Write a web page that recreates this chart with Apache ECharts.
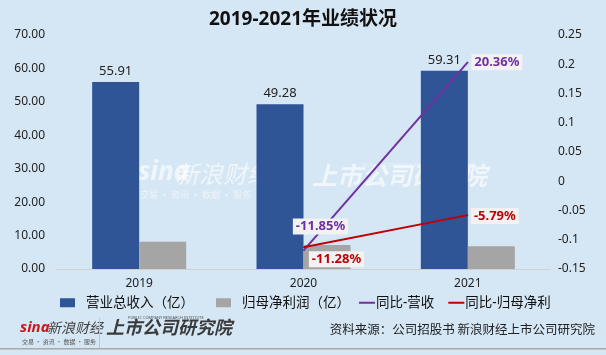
<!DOCTYPE html>
<html><head><meta charset="utf-8">
<script src="https://cdn.jsdelivr.net/npm/echarts@6/dist/echarts.min.js"></script>
<style>html,body{margin:0;padding:0;background:#d5e6f4;}#c{width:606px;height:355px;}</style>
</head><body><div id="c"></div>
<script>
var categories = ['2019', '2020', '2021'];
var revenue = [55.91, 49.28, 59.31];
var netProfit = [8.13, 7.21, 6.80];
var revenueYoY = [null, -0.1185, 0.2036];
var profitYoY = [null, -0.1128, -0.0579];
var leftTicks = {min: 0, max: 70, interval: 10};
var rightTicks = {min: -0.15, max: 0.25, interval: 0.05};
var seriesNames = ['营业总收入（亿）', '归母净利润（亿）', '同比-营收', '同比-归母净利'];

var FONT = '"Noto Sans", "Noto Sans CJK SC", sans-serif';
var chart = echarts.init(document.getElementById('c'));

function lineLabels(vals, color, offsets) {
  return vals.map(function (v, i) {
    if (v === null) return null;
    return {
      value: v,
      label: {
        show: true, position: 'inside', offset: offsets[i],
        formatter: (v * 100).toFixed(2) + '%',
        color: color, fontWeight: 'bold', fontSize: 13, fontFamily: FONT,
        backgroundColor: '#f2f2f2', padding: [2, 3, 1, 3]
      }
    };
  });
}

chart.setOption({
  backgroundColor: '#d5e6f4',
  animation: false,
  title: {
    text: '2019-2021年业绩状况', left: 'center', top: 5,
    textStyle: {fontSize: 19, fontWeight: 'bold', color: '#111', fontFamily: FONT}
  },
  grid: {left: 57, right: 56, top: 35, bottom: 86},
  legend: [{
    data: [seriesNames[0], seriesNames[1]], left: 55, top: 291, icon: 'rect',
    itemWidth: 15, itemHeight: 9, itemGap: 22,
    textStyle: {fontSize: 13.5, color: '#111', fontFamily: FONT, padding: [0, 0, 0, 6]}
  }, {
    data: [seriesNames[2], seriesNames[3]], left: 354, top: 291, icon: 'rect',
    itemWidth: 16, itemHeight: 2, itemGap: 14,
    textStyle: {fontSize: 13.5, color: '#111', fontFamily: FONT, padding: [0, 0, 0, -4]}
  }],
  xAxis: {
    type: 'category', data: categories,
    axisLine: {lineStyle: {color: '#d0d0d0'}}, axisTick: {show: false},
    axisLabel: {color: '#222', fontSize: 12, margin: 9, fontFamily: FONT}
  },
  yAxis: [{
    type: 'value', min: leftTicks.min, max: leftTicks.max, interval: leftTicks.interval,
    splitLine: {show: false}, axisLine: {show: false}, axisTick: {show: false},
    axisLabel: {color: '#222', fontSize: 12, margin: 12, fontFamily: FONT,
      formatter: function (v) { return v.toFixed(2); }}
  }, {
    type: 'value', min: rightTicks.min, max: rightTicks.max, interval: rightTicks.interval,
    splitLine: {show: false}, axisLine: {show: false}, axisTick: {show: false},
    axisLabel: {color: '#222', fontSize: 12, margin: 8, fontFamily: FONT,
      formatter: function (v) { return String(+v.toFixed(2)); }}
  }],
  series: [{
    name: seriesNames[0], type: 'bar', data: revenue, barWidth: 47, barGap: '0%',
    itemStyle: {color: '#2f5597'},
    label: {show: true, position: 'top', distance: 4, color: '#222', fontSize: 13, fontFamily: FONT,
      formatter: function (p) { return p.value.toFixed(2); }}
  }, {
    name: seriesNames[1], type: 'bar', data: netProfit, barWidth: 47, barGap: '0%',
    itemStyle: {color: '#a5a5a5'}
  }, {
    name: seriesNames[2], type: 'line', yAxisIndex: 1,
    data: lineLabels(revenueYoY, '#7030a0', [null, [17, -24], [29, 0]]),
    symbol: 'circle', symbolSize: 1, itemStyle: {color: '#7030a0'},
    lineStyle: {color: '#7030a0', width: 2}, z: 5
  }, {
    name: seriesNames[3], type: 'line', yAxisIndex: 1,
    data: lineLabels(profitYoY, '#c00000', [null, [33, 12], [27, 1]]),
    symbol: 'circle', symbolSize: 1, itemStyle: {color: '#c00000'},
    lineStyle: {color: '#c00000', width: 2}, z: 5
  }],
  graphic: [
    // watermark
    {type: 'text', z: 0, left: 138, top: 160, style: {text: 'sina', font: 'italic bold 26px ' + FONT, fill: 'rgba(255,255,255,0.65)'}},
    {type: 'text', z: 0, left: 175, top: 162, style: {text: '新浪财经', font: 'italic 24px "Noto Sans CJK SC"', fill: 'rgba(255,255,255,0.65)'}},
    {type: 'text', z: 0, left: 140, top: 190, style: {text: '交易 · 资讯 · 数据 · 服务', font: '9px "Noto Sans CJK SC"', fill: 'rgba(255,255,255,0.6)'}},
    {type: 'text', z: 0, left: 312, top: 163, style: {text: '上市公司研究院', font: 'italic bold 25px "Noto Sans CJK SC"', fill: 'rgba(255,255,255,0.65)'}},
    {type: 'text', z: 0, left: 362, top: 162, style: {text: 'PUBLIC COMPANY RESEARCH INSTITUTE', font: '6px ' + FONT, fill: 'rgba(255,255,255,0.5)'}},
    // footer
    {type: 'text', left: 20, top: 320, style: {text: 'sina', font: 'italic bold 15px ' + FONT, fill: '#d0161b'}},
    {type: 'text', left: 47, top: 321, style: {text: '新浪财经', font: 'italic 14px "Noto Sans CJK SC"', fill: '#444'}},
    {type: 'text', left: 22, top: 339, style: {text: '交易 · 资讯 · 数据 · 服务', font: '6px "Noto Sans CJK SC"', fill: '#555'}},
    {type: 'rect', left: 99, top: 318, shape: {width: 1, height: 30}, style: {fill: '#b8c8d6'}},
    {type: 'text', left: 106, top: 318, style: {text: '上市公司研究院', font: 'italic bold 18px "Noto Sans CJK SC"', fill: '#3a3a3a'}},
    {type: 'text', left: 128, top: 316, style: {text: 'PUBLIC COMPANY RESEARCH INSTITUTE', font: '4px ' + FONT, fill: '#555'}},
    {type: 'text', right: 11, top: 323, style: {text: '资料来源：公司招股书 新浪财经上市公司研究院', font: '12.5px "Noto Sans CJK SC"', fill: '#222'}},
    {type: 'rect', left: 0, top: 348, shape: {width: 606, height: 1.5}, style: {fill: '#a8a8a8'}}
  ]
});
</script></body></html>
